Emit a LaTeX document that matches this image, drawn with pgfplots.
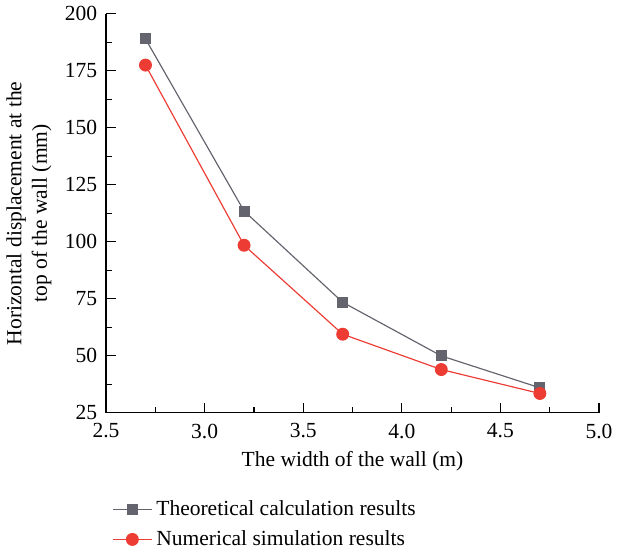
\documentclass[border=0pt]{standalone}
\usepackage{fontspec}
\setmainfont{Liberation Serif}
\usepackage{pgfplots}
\pgfplotsset{compat=1.18}
\definecolor{theo}{RGB}{100,100,110}
\definecolor{numr}{RGB}{236,60,52}
\begin{document}
\begin{tikzpicture}
\begin{axis}[
    scale only axis,
    width=252pt, height=204pt,
    xmin=2.5, xmax=5.0, ymin=25, ymax=200,
    xtick={2.5,3.0,...,5.0},
    ytick={25,50,...,200},
    minor x tick num=1, minor y tick num=1,
    x tick label style={/pgf/number format/fixed, /pgf/number format/fixed zerofill, /pgf/number format/precision=1, yshift=-2pt},
    y tick label style={xshift=-1pt},
    /pgf/number format/assume math mode=true,
    axis lines*=left,
    tick align=inside,
    major tick length=5pt, minor tick length=3pt,
    tick style={black, line width=0.6pt},
    axis line style={line width=0.6pt},
    xlabel={The width of the wall (m)},
    ylabel={Horizontal displacement at the\\top of the wall (mm)},
    ylabel style={align=center},
    every tick label/.append style={font=\fontsize{11}{13}\selectfont},
    label style={font=\fontsize{11}{13}\selectfont},
    legend style={draw=none, at={(rel axis cs:0,-0.2)}, anchor=north west,
        font=\fontsize{11}{14}\selectfont, row sep=2pt},
    legend cell align=left,
    legend image code/.code={\draw[mark repeat=2,mark phase=2] plot coordinates {(0cm,0cm) (0.35cm,0cm) (0.7cm,0cm)};},
]
\addplot[color=theo, line width=0.6pt, mark=square*, mark size=2.5pt] coordinates {
(2.7,189)(3.2,113.5)(3.7,73.5)(4.2,50)(4.7,36)};
\addlegendentry{Theoretical calculation results}
\addplot[color=numr, line width=0.6pt, mark=*, mark size=3pt] coordinates {
(2.7,177.5)(3.2,98.5)(3.7,59.5)(4.2,44)(4.7,33.5)};
\addlegendentry{Numerical simulation results}
\end{axis}
\end{tikzpicture}
\end{document}
